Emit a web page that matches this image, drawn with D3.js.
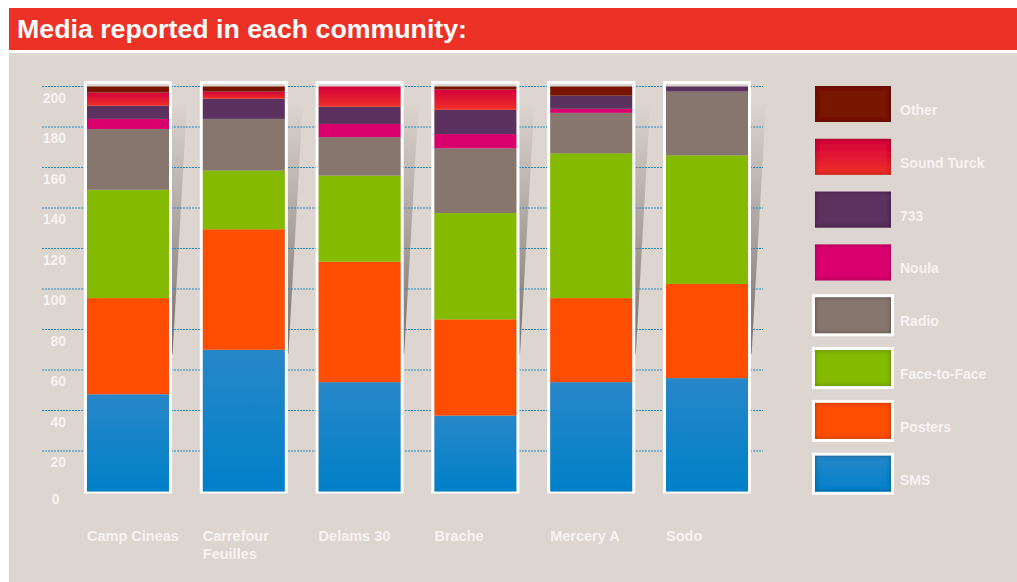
<!DOCTYPE html>
<html>
<head>
<meta charset="utf-8">
<script src="https://cdn.jsdelivr.net/npm/d3@7"></script>
<style>
  html, body { margin: 0; padding: 0; background: #ffffff; }
  svg { display: block; font-family: "Liberation Sans", Arial, Helvetica, sans-serif; }
</style>
</head>
<body>
<svg id="chart" width="1017" height="582"></svg>
<script>
// ---- data -------------------------------------------------------------
const communities = ["Camp Cineas", "Carrefour\nFeuilles", "Delams 30", "Brache", "Mercery A", "Sodo"];
const media = ["SMS", "Posters", "Face-to-Face", "Radio", "Noula", "733", "Sound Turck", "Other"];

const sms        = [48,   70,   54,   37.5, 54,   56];
const posters    = [47.5, 59.5, 59.5, 47.5, 41.5, 46.5];
const faceToFace = [53.5, 29,   42.5, 52.5, 71.5, 63.5];
const radio      = [30,   25.5, 19,   32,   20,   31.5];
const noula      = [5,    0,    6.5,  7,    2,    0];
const num733     = [6.5,  10,   8.5,  12,   6.5,  2.5];
const soundTurck = [6.5,  3.5,  10,   10,   0,    0];
const other      = [3,    2.5,  0,    1.5,  4.5,  0];

const yTicks = [0, 20, 40, 60, 80, 100, 120, 140, 160, 180, 200];

// ---- styling ----------------------------------------------------------
const seriesColors = {
  "SMS": "url(#gradSMS)",
  "Posters": "#ff4d00",
  "Face-to-Face": "#84ba00",
  "Radio": "#86766d",
  "Noula": "#d9006e",
  "733": "#5b325f",
  "Sound Turck": "url(#gradST)",
  "Other": "#781500"
};
const framedInLegend = ["SMS", "Posters", "Face-to-Face", "Radio"];

const panelBg = "#ddd5d0";
const labelColor = "#f7f3f1";

// ---- table built from the arrays --------------------------------------
const seriesValues = [sms, posters, faceToFace, radio, noula, num733, soundTurck, other];
const table = communities.map((c, i) => {
  const row = { community: c };
  media.forEach((m, k) => { row[m] = seriesValues[k][i]; });
  return row;
});
const stacked = d3.stack().keys(media)(table);

// ---- scaffolding ------------------------------------------------------
const svg = d3.select("#chart");
const defs = svg.append("defs");

function vGrad(id, top, bottom) {
  const g = defs.append("linearGradient").attr("id", id)
    .attr("x1", 0).attr("y1", 0).attr("x2", 0).attr("y2", 1);
  g.append("stop").attr("offset", "0%").attr("stop-color", top);
  g.append("stop").attr("offset", "100%").attr("stop-color", bottom);
}
vGrad("gradSMS", "#2787c8", "#0080c8");
vGrad("gradST", "#d4003c", "#ef3128");

const shadowGrad = defs.append("linearGradient").attr("id", "gradShadow")
  .attr("x1", 0).attr("y1", 0).attr("x2", 0).attr("y2", 1);
shadowGrad.append("stop").attr("offset", "0%").attr("stop-color", "#5a524e").attr("stop-opacity", 0.0);
shadowGrad.append("stop").attr("offset", "12%").attr("stop-color", "#5a524e").attr("stop-opacity", 0.1);
shadowGrad.append("stop").attr("offset", "100%").attr("stop-color", "#4a4440").attr("stop-opacity", 0.7);

// soft inner shadow used on legend swatches
const inset = defs.append("filter").attr("id", "inset")
  .attr("x", "-10%").attr("y", "-10%").attr("width", "120%").attr("height", "120%");
inset.append("feFlood").attr("flood-color", "#000").attr("flood-opacity", 0.7).attr("result", "flood");
inset.append("feComposite").attr("in", "flood").attr("in2", "SourceAlpha").attr("operator", "out").attr("result", "ring");
inset.append("feGaussianBlur").attr("in", "ring").attr("stdDeviation", 2).attr("result", "blur");
inset.append("feComposite").attr("in", "blur").attr("in2", "SourceAlpha").attr("operator", "in").attr("result", "shadow");
const merge = inset.append("feMerge");
merge.append("feMergeNode").attr("in", "SourceGraphic");
merge.append("feMergeNode").attr("in", "shadow");

// title band and panel
svg.append("rect").attr("x", 9).attr("y", 8).attr("width", 1008).attr("height", 42).attr("fill", "#ec3127");
svg.append("text")
  .attr("x", 17).attr("y", 37.5)
  .attr("fill", "#ffffff")
  .attr("font-size", 25).attr("font-weight", "bold")
  .attr("textLength", 450).attr("lengthAdjust", "spacingAndGlyphs")
  .text("Media reported in each community:");
svg.append("rect").attr("x", 9).attr("y", 53).attr("width", 1008).attr("height", 529).attr("fill", panelBg);

// ---- scales -----------------------------------------------------------
const x = d3.scaleBand().domain(communities).range([87, 748]).paddingInner(0.292).paddingOuter(0);
const y = d3.scaleLinear().domain([0, 200]).range([491.5, 86.5]);
const bw = x.bandwidth();

// page-curl style shadow to the right of each column
svg.append("g").selectAll("path")
  .data(communities)
  .join("path")
  .attr("d", c => {
    const xr = x(c) + bw + 3;
    return `M${xr},102 L${xr + 15},102 L${xr + 0.6},354 L${xr},354 Z`;
  })
  .attr("fill", "url(#gradShadow)");

// dotted gridlines
svg.append("g").selectAll("line")
  .data(yTicks.filter(v => v > 0))
  .join("line")
  .attr("x1", 42).attr("x2", 763)
  .attr("y1", d => y(d)).attr("y2", d => y(d))
  .attr("stroke", "#2288cc")
  .attr("stroke-width", 1)
  .attr("stroke-dasharray", "2,1");

// y tick labels
svg.append("g").selectAll("text")
  .data(yTicks)
  .join("text")
  .attr("x", d => d === 0 ? 59.5 : 66)
  .attr("y", d => y(d) + (d === 0 ? 12 : 16))
  .attr("text-anchor", "end")
  .attr("fill", labelColor)
  .attr("font-size", 14).attr("font-weight", "bold")
  .text(d => d);

// ---- bars -------------------------------------------------------------
const bars = svg.append("g");

// white frame around each column
bars.selectAll("rect.frame")
  .data(communities)
  .join("rect")
  .attr("class", "frame")
  .attr("x", c => x(c) - 3).attr("y", y(200) - 5.5)
  .attr("width", bw + 6).attr("height", y(0) + 2 - (y(200) - 5.5))
  .attr("fill", "#ffffff");
bars.selectAll("rect.inner")
  .data(communities)
  .join("rect")
  .attr("class", "inner")
  .attr("x", c => x(c)).attr("y", y(200) - 2.5)
  .attr("width", bw).attr("height", y(0) - (y(200) - 2.5))
  .attr("fill", panelBg);

// stacked segments
bars.selectAll("g.series")
  .data(stacked)
  .join("g")
  .attr("class", "series")
  .attr("fill", s => seriesColors[s.key])
  .selectAll("rect")
  .data(s => s.filter(d => d[1] - d[0] > 0))
  .join("rect")
  .attr("x", d => x(d.data.community))
  .attr("y", d => y(d[1]))
  .attr("width", bw)
  .attr("height", d => y(d[0]) - y(d[1]));

// category labels (may run over two lines)
svg.append("g").selectAll("text")
  .data(communities)
  .join("text")
  .attr("x", c => x(c))
  .attr("y", 540.7)
  .attr("fill", labelColor)
  .attr("font-size", 14.5).attr("font-weight", "bold")
  .each(function (c) {
    const t = d3.select(this);
    c.split("\n").forEach((line, i) => {
      t.append("tspan").attr("x", x(c)).attr("dy", i === 0 ? 0 : 17.8).text(line);
    });
  });

// ---- legend -----------------------------------------------------------
const legendOrder = media.slice().reverse();
const legendY = d3.scalePoint().domain(legendOrder).range([86, 455.7]);
const legend = svg.append("g").selectAll("g")
  .data(legendOrder)
  .join("g")
  .attr("transform", m => `translate(815,${legendY(m)})`);

legend.filter(m => framedInLegend.includes(m))
  .append("rect")
  .attr("x", -3).attr("y", -3).attr("width", 82).attr("height", 42)
  .attr("fill", "#ffffff");
legend.append("rect")
  .attr("width", 76).attr("height", 36)
  .attr("fill", m => seriesColors[m])
  .attr("filter", "url(#inset)");
legend.append("text")
  .attr("x", 85).attr("y", 29)
  .attr("fill", labelColor)
  .attr("font-size", 14).attr("font-weight", "bold")
  .text(m => m);
</script>
</body>
</html>
